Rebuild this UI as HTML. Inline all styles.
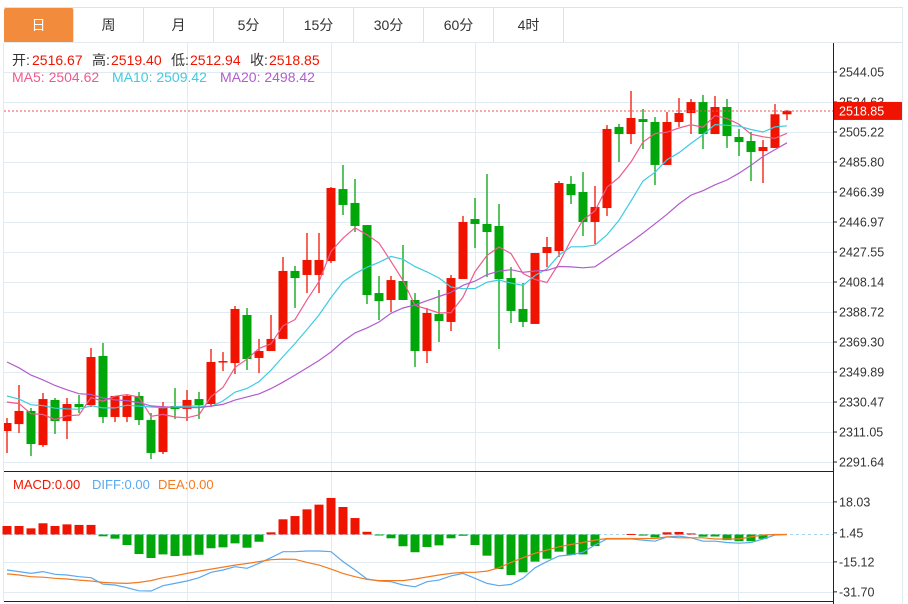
<!DOCTYPE html>
<html><head><meta charset="utf-8"><style>
body{margin:0;background:#fff;width:908px;height:604px;overflow:hidden;font-family:"Liberation Sans","Noto Sans CJK SC",sans-serif;}
#tabs{position:absolute;left:4px;top:7px;height:36px;width:898px;border-top:1px solid #dfe3e8;border-bottom:1px solid #dfe3e8;box-sizing:border-box;}
.tab{position:absolute;top:0;height:35px;width:70px;line-height:35px;text-align:center;font-size:14px;color:#333;border-right:1px solid #dfe3e8;box-sizing:border-box;}
.tab.on{background:#f28c3c;color:#fff;border-radius:2px;}
svg{position:absolute;left:0;top:0;}
</style></head><body>
<div id="tabs">
<div class="tab on" style="left:0">日</div>
<div class="tab" style="left:70px">周</div>
<div class="tab" style="left:140px">月</div>
<div class="tab" style="left:210px">5分</div>
<div class="tab" style="left:280px">15分</div>
<div class="tab" style="left:350px">30分</div>
<div class="tab" style="left:420px">60分</div>
<div class="tab" style="left:490px">4时</div>
</div>
<svg id="chart" width="908" height="604"></svg>
<script>
const opens=[2311.7,2316.2,2324.7,2302.6,2331.8,2318.2,2329.2,2328.5,2360.3,2320.8,2320.8,2334.4,2318.8,2298.1,2327.9,2325.9,2332.4,2329.2,2356.4,2355.7,2386.8,2359.0,2363.5,2371.3,2415.3,2412.7,2412.7,2421.7,2468.3,2459.3,2445.0,2401.0,2396.5,2408.8,2396.5,2363.5,2387.4,2382.3,2410.1,2448.9,2445.7,2444.4,2410.7,2390.7,2381.0,2426.9,2428.2,2471.6,2466.4,2447.0,2456.0,2508.5,2503.9,2513.6,2511.7,2483.9,2511.7,2517.5,2524.6,2503.9,2521.4,2502.0,2499.4,2492.9,2494.9,2516.67];
const highs=[2320.1,2341.5,2326.6,2336.3,2333.1,2333.1,2335.0,2365.4,2368.7,2334.4,2335.0,2337.0,2323.4,2330.5,2339.5,2338.2,2337.0,2364.8,2362.8,2392.6,2391.3,2371.3,2386.8,2424.3,2418.5,2439.9,2439.9,2469.6,2483.9,2474.8,2445.0,2412.0,2412.0,2432.1,2401.0,2391.3,2403.0,2412.7,2450.9,2462.5,2478.0,2458.6,2417.8,2407.5,2426.9,2437.3,2473.5,2476.7,2479.3,2470.3,2509.7,2510.4,2531.75,2520.1,2514.9,2518.2,2527.2,2526.6,2529.2,2528.5,2526.6,2507.2,2505.2,2500.0,2523.3,2519.40];
const lows=[2297.5,2310.4,2295.5,2301.4,2309.8,2306.5,2323.4,2327.2,2316.9,2317.5,2317.5,2315.6,2293.6,2296.8,2319.5,2318.2,2319.5,2327.2,2350.5,2348.6,2351.2,2349.2,2363.5,2371.3,2391.3,2401.0,2401.0,2420.4,2451.5,2440.5,2393.9,2383.5,2388.7,2396.5,2353.1,2355.7,2369.3,2376.4,2410.1,2430.1,2411.4,2364.8,2381.6,2379.0,2381.0,2417.8,2424.3,2458.6,2437.9,2432.7,2450.9,2485.8,2497.4,2494.2,2470.9,2483.9,2508.5,2503.9,2494.2,2503.9,2494.9,2489.7,2473.5,2472.2,2494.9,2512.94];
const closes=[2316.9,2324.7,2303.3,2332.4,2318.2,2329.2,2327.2,2359.6,2320.8,2334.4,2334.4,2318.8,2297.5,2327.2,2325.9,2331.8,2328.5,2356.4,2357.0,2390.7,2358.3,2363.5,2371.3,2415.3,2410.7,2422.4,2422.4,2469.0,2458.0,2444.4,2399.7,2395.8,2409.4,2396.5,2363.5,2388.1,2382.9,2410.7,2447.0,2445.7,2440.5,2410.1,2389.4,2382.3,2426.9,2430.8,2472.2,2464.4,2447.0,2456.7,2507.2,2503.9,2514.3,2511.7,2483.9,2511.7,2517.5,2524.6,2503.9,2521.4,2502.6,2498.7,2492.3,2495.5,2516.7,2518.85];
const priorCloses=[2400,2398,2395,2390,2385,2378,2370,2365,2360,2343,2345,2340,2338,2335,2333.5,2330,2336,2335,2334.6];
const macdHist=[4.7,4.7,3.4,6.2,4.7,5.6,5.3,5.3,-1.0,-2.3,-5.8,-10.8,-13.0,-11.0,-11.9,-11.7,-11.2,-7.6,-7.1,-4.9,-7.3,-4.0,1.2,8.4,10.2,13.9,16.5,20.2,15.2,9.1,1.5,-0.4,-2.1,-6.5,-9.8,-6.9,-6.0,-2.1,-0.7,-5.8,-11.7,-19.1,-22.4,-20.9,-15.0,-13.4,-9.5,-11.3,-11.0,-6.4,0,0,0.3,-0.6,-1.6,1.2,1.4,0.6,-1.2,-1.1,-3.1,-3.7,-3.7,-2.4,0,0];
const diffLine=[-19.6,-20.5,-21.5,-20.5,-22.0,-22.4,-23.3,-23.9,-27.4,-27.9,-29.4,-31.1,-31.2,-28.3,-27.0,-25.7,-23.9,-20.9,-19.6,-17.8,-18.7,-15.9,-12.8,-9.5,-9.5,-9.1,-9.1,-9.5,-15.0,-19.6,-24.6,-25.7,-26.1,-27.9,-28.9,-26.1,-25.2,-22.9,-21.5,-24.2,-27.0,-28.3,-27.6,-24.2,-18.4,-15.0,-11.9,-11.3,-9.8,-5.8,-2.5,-2.5,-2.5,-3.1,-3.7,-1.3,-0.9,-1.8,-3.7,-3.7,-4.4,-4.8,-4.4,-2.5,-0.3,0];
const deaLine=[-21.8,-22.4,-23.3,-23.6,-24.2,-24.6,-25.2,-25.7,-26.5,-26.8,-27.0,-26.5,-25.5,-23.9,-22.8,-21.5,-20.2,-19.1,-18.0,-16.9,-16.0,-15.0,-13.9,-13.6,-13.7,-15.4,-16.9,-19.1,-21.5,-23.3,-24.8,-25.5,-25.5,-25.5,-24.6,-23.5,-22.4,-21.5,-20.9,-20.9,-20.2,-18.4,-15.4,-12.8,-10.4,-8.6,-6.8,-5.5,-4.4,-3.1,-2.2,-2.2,-2.2,-2.2,-2.2,-1.3,-1.8,-1.8,-1.8,-2.5,-2.5,-2.5,-1.3,-0.3,0,0];
const priceTicks=[2544.05,2524.63,2505.22,2485.80,2466.39,2446.97,2427.55,2408.14,2388.72,2369.30,2349.89,2330.47,2311.05,2291.64];
const macdTicks=[18.03,1.45,-15.12,-31.70];

const NS='http://www.w3.org/2000/svg';
const svg=document.getElementById('chart');
const RED='#f01400',GREEN='#00a60a';
function yP(p){return 72+(2544.05-p)*30/19.415;}
function yM(v){return 534.5-v*30/16.58;}
function xI(i){return 7+12*i;}
function mk(tag,attrs,parent){const e=document.createElementNS(NS,tag);for(const k in attrs)e.setAttribute(k,attrs[k]);(parent||svg).appendChild(e);return e;}

const defs=mk('defs',{});
const cp=mk('clipPath',{id:'plot'},defs);
mk('rect',{x:4,y:43,width:829,height:560},cp);

const grid=mk('g',{stroke:'#e2ebf2','stroke-width':1});


priceTicks.forEach(t=>{mk('line',{x1:4,x2:833,y1:Math.round(yP(t))+0.5,y2:Math.round(yP(t))+0.5},grid);});
mk('line',{x1:4,x2:833,y1:42.5,y2:42.5},grid);
[18.03,-15.12,-31.70].forEach(t=>{mk('line',{x1:4,x2:833,y1:Math.round(yM(t))+0.5,y2:Math.round(yM(t))+0.5},grid);});
[187,331,475,738].forEach(x=>{mk('line',{x1:x+0.5,x2:x+0.5,y1:43,y2:602},grid);});
mk('line',{x1:3.5,x2:3.5,y1:43,y2:602},grid);
mk('line',{x1:902.5,x2:902.5,y1:7,y2:604},grid);

const cg=mk('g',{'clip-path':'url(#plot)'});


opens.forEach((o,i)=>{
  const c=closes[i],col=c>=o?RED:GREEN,x=xI(i);
  const g=mk('g',{},cg);
  
  
  mk('line',{x1:x,x2:x,y1:yP(highs[i]),y2:yP(lows[i]),stroke:col,'stroke-width':1.3},g);
  const top=yP(Math.max(o,c)),bot=yP(Math.min(o,c));
  mk('rect',{x:x-4.5,y:top,width:9,height:Math.max(1.5,bot-top),fill:col},g);
});

const all=priorCloses.concat(closes);
function ma(n){return closes.map((_,i)=>{let s=0;for(let k=0;k<n;k++)s+=all[i+priorCloses.length-k];return s/n;});}
[[5,'#ef5b8d','ma5-line'],[10,'#3fcbe0','ma10-line'],[20,'#b25ccd','ma20-line']].forEach(([n,col,name])=>{
  const v=ma(n);
  const p=mk('path',{d:v.map((m,i)=>(i?'L':'M')+xI(i)+' '+yP(m).toFixed(1)).join(''),fill:'none',stroke:col,'stroke-width':1.2,'clip-path':'url(#plot)'});
  
  
});

const last=closes[closes.length-1];
const ll=mk('line',{x1:4,x2:833,y1:yP(last),y2:yP(last),stroke:'#f05050','stroke-width':1,'stroke-dasharray':'2,2'});



const mg=mk('g',{});


mk('line',{x1:4,x2:833,y1:yM(0),y2:yM(0),stroke:'#a8d4f0','stroke-dasharray':'3,3'},mg);
macdHist.forEach((v,i)=>{
  if(v===0)return;
  const y0=yM(0),y1=yM(v);
  const r=mk('rect',{x:xI(i)-4.5,y:Math.min(y0,y1),width:9,height:Math.max(1,Math.abs(y1-y0)),fill:v>0?RED:GREEN},mg);
  
  
});
[[diffLine,'#5aa9ef','diff-line'],[deaLine,'#f27b22','dea-line']].forEach(([arr,col,name])=>{
  const p=mk('path',{d:arr.map((v,i)=>(i?'L':'M')+xI(i)+' '+yM(v).toFixed(1)).join(''),fill:'none',stroke:col,'stroke-width':1.2});
  
  
});

const ax=mk('g',{stroke:'#222','stroke-width':1});


mk('line',{x1:4,x2:833,y1:471.5,y2:471.5},ax);
mk('line',{x1:4,x2:833,y1:601.5,y2:601.5},ax);
mk('line',{x1:833.5,x2:833.5,y1:43,y2:604},ax);

const at=mk('g',{'font-size':12.5,fill:'#333','font-family':'Liberation Sans, sans-serif'});


priceTicks.forEach(t=>{
  const y=yP(t);
  mk('line',{x1:833,x2:837,y1:y,y2:y,stroke:'#222'},at);
  const tx=mk('text',{x:839,y:y+4.5},at);tx.textContent=t.toFixed(2);
  
  
});
macdTicks.forEach(t=>{
  const y=yM(t)+(t===1.45?1:0);
  mk('line',{x1:833,x2:837,y1:y,y2:y,stroke:'#222'},at);
  const tx=mk('text',{x:839,y:y+4.5},at);tx.textContent=t.toFixed(2);
  
  
});
const by=yP(last);
const badge=mk('rect',{x:834,y:by-9,width:68,height:18,fill:RED});


const bt=mk('text',{x:839,y:by+4.5,fill:'#fff','font-size':12.5,'font-family':'Liberation Sans, sans-serif'});
bt.textContent=last.toFixed(2);



function txt(y,fs,parts,name){
  const g=mk('g',{'font-size':fs,'font-family':'Liberation Sans, Noto Sans CJK SC, sans-serif'});
  
  
  parts.forEach(([x,s,c])=>{const t=mk('text',{x:x,y:y,fill:c},g);t.textContent=s;});
}
txt(65,14,[[12,'开:','#333'],[32,'2516.67','#f01400'],[92,'高:','#333'],[111,'2519.40','#f01400'],[171,'低:','#333'],[190,'2512.94','#f01400'],[250,'收:','#333'],[269,'2518.85','#f01400']],'ohlc-info');
txt(82,14,[[12,'MA5: 2504.62','#ef5b8d'],[112,'MA10: 2509.42','#3fcbe0'],[220,'MA20: 2498.42','#b25ccd']],'ma-legend');
txt(489,13,[[13,'MACD:0.00','#f01400'],[92,'DIFF:0.00','#5aa9ef'],[158,'DEA:0.00','#f27b22']],'macd-legend');
</script>
</body></html>
